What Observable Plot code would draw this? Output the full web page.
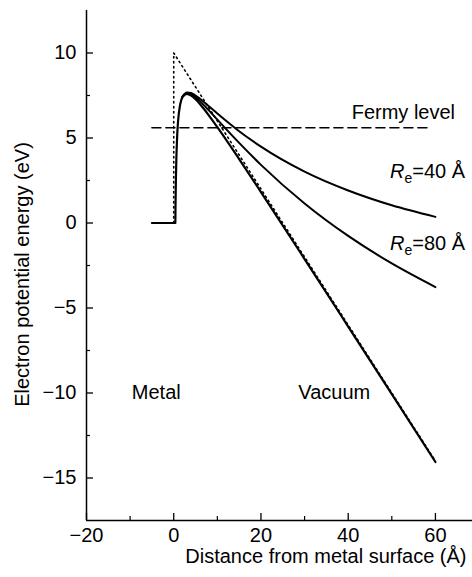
<!DOCTYPE html>
<html>
<head>
<meta charset="utf-8">
<script src="https://cdn.jsdelivr.net/npm/d3@7"></script>
<script src="https://cdn.jsdelivr.net/npm/@observablehq/plot@0.6"></script>
<style>
  html, body { margin: 0; padding: 0; background: #fff; }
  #chart svg { display: block; }
</style>
</head>
<body>
<div id="chart"></div>
<script>
// Image-potential corrected barrier (planar)
const xImage = [-5, 0.37, 0.4, 0.5, 0.6, 0.8, 1, 1.5, 2, 3, 4, 5, 6, 8, 10, 15, 20, 30, 40, 50, 60];
const vImage = [0, 0, 0.84, 2.6, 3.76, 5.18, 6.0, 7.0, 7.4, 7.6, 7.5, 7.28, 7.0, 6.35, 5.64, 3.76, 1.82, -2.12, -6.09, -10.07, -14.06];

// Curved emitters (Re = 40 Å, Re = 80 Å)
const xRe = [2, 3, 4, 5, 6, 8, 10, 15, 20, 30, 40, 50, 60];
const vRe40 = [7.44, 7.68, 7.65, 7.50, 7.31, 6.88, 6.44, 5.40, 4.49, 3.02, 1.91, 1.04, 0.36];
const vRe80 = [7.42, 7.64, 7.58, 7.40, 7.17, 6.64, 6.08, 4.71, 3.42, 1.15, -0.76, -2.38, -3.77];

// Triangular barrier (dotted)
const xTri = [0, 0, 60];
const vTri = [0, 10, -14];

// Fermi level
const xFermi = [-5, 58.5];
const eFermi = 5.6;

// Axes
const xDomain = [-20, 68.5];
const yDomain = [-17.5, 12.5];
const xMajor = [-20, 0, 20, 40, 60];
const xMinor = [-10, 10, 30, 50];
const yMajor = [-15, -10, -5, 0, 5, 10];
const yMinor = [-12.5, -7.5, -2.5, 2.5, 7.5];

// Labels
const regionLabels = ["Metal", "Vacuum"];
const regionX = [-4, 36.8];
const regionY = [-10, -10];
const fermiLabel = "Fermy level";
const fermiLabelPos = [64.5, 6.5];
const reValues = ["40", "80"];
const reLabelX = [66.8, 66.8];
const reLabelY = [3.0, -1.2];
const xLabel = "Distance from metal surface (Å)";
const yLabel = "Electron potential energy (eV)";

const toPts = (xs, ys) => xs.map((x, i) => ({x, y: ys[i]}));
const fmt = d => d < 0 ? "−" + Math.abs(d) : String(d);

const plot = Plot.plot({
  width: 472,
  height: 577,
  marginLeft: 86,
  marginRight: 0,
  marginTop: 10,
  marginBottom: 57,
  style: {fontFamily: "'Liberation Sans', Arial, sans-serif", fontSize: "20px", background: "#fff", color: "#000"},
  x: {domain: xDomain, label: null},
  y: {domain: yDomain, label: null},
  marks: [
    // axis lines
    Plot.ruleY([yDomain[0]], {stroke: "#000", strokeWidth: 1.5}),
    Plot.ruleX([xDomain[0]], {stroke: "#000", strokeWidth: 1.5}),
    // ticks (inward) and tick labels
    Plot.axisX(xMajor, {label: null, tickSize: 0, tickPadding: 7, fontSize: 20, tickFormat: fmt}),
    Plot.axisX(xMajor, {label: null, tickSize: -7, text: null, strokeWidth: 1.3}),
    Plot.axisX(xMinor, {label: null, tickSize: -4, text: null, strokeWidth: 1.2}),
    Plot.axisY(yMajor, {label: null, tickSize: 0, tickPadding: 10, fontSize: 20, tickFormat: fmt}),
    Plot.axisY(yMajor, {label: null, tickSize: -7, text: null, strokeWidth: 1.3}),
    Plot.axisY(yMinor, {label: null, tickSize: -4, text: null, strokeWidth: 1.2}),
    // Fermi level
    Plot.line(xFermi.map(x => ({x, y: eFermi})), {x: "x", y: "y", stroke: "#000", strokeWidth: 1.6, strokeDasharray: "9,5"}),
    // triangular barrier
    Plot.line(toPts(xTri, vTri), {x: "x", y: "y", stroke: "#000", strokeWidth: 1.6, strokeDasharray: "1.5,3.5"}),
    // curves
    Plot.line(toPts(xRe, vRe40), {x: "x", y: "y", curve: "monotone-x", stroke: "#000", strokeWidth: 2}),
    Plot.line(toPts(xRe, vRe80), {x: "x", y: "y", curve: "monotone-x", stroke: "#000", strokeWidth: 2}),
    Plot.line(toPts(xImage, vImage), {x: "x", y: "y", curve: "monotone-x", stroke: "#000", strokeWidth: 2.2}),
    // texts
    Plot.text(regionLabels, {x: (d, i) => regionX[i], y: (d, i) => regionY[i], text: d => d, fontSize: 20, fill: "#000"}),
    Plot.text([fermiLabel], {x: fermiLabelPos[0], y: fermiLabelPos[1], text: d => d, textAnchor: "end", fontSize: 20, fill: "#000"}),
    Plot.text(reValues, {x: (d, i) => reLabelX[i], y: (d, i) => reLabelY[i], text: d => "Re=" + d + " Å", textAnchor: "end", fontSize: 20, fill: "#000", className: "re-label"}),
    Plot.text([xLabel], {frameAnchor: "bottom-right", dx: -6, dy: 42, textAnchor: "end", text: d => d, fontSize: 20, fill: "#000"}),
    Plot.text([yLabel], {frameAnchor: "left", dx: -64, dy: 9, rotate: -90, textAnchor: "middle", text: d => d, fontSize: 20, fill: "#000"})
  ]
});

d3.select(plot).selectAll(".re-label text").each(function(d, i) {
  const t = d3.select(this);
  const v = reValues[i] !== undefined ? reValues[i] : "";
  t.text(null);
  t.append("tspan").attr("font-style", "italic").text("R");
  t.append("tspan").attr("font-size", 14).attr("dy", 5).text("e");
  t.append("tspan").attr("dy", -5).text("=" + v + " Å");
});

document.getElementById("chart").appendChild(plot);
</script>
</body>
</html>
